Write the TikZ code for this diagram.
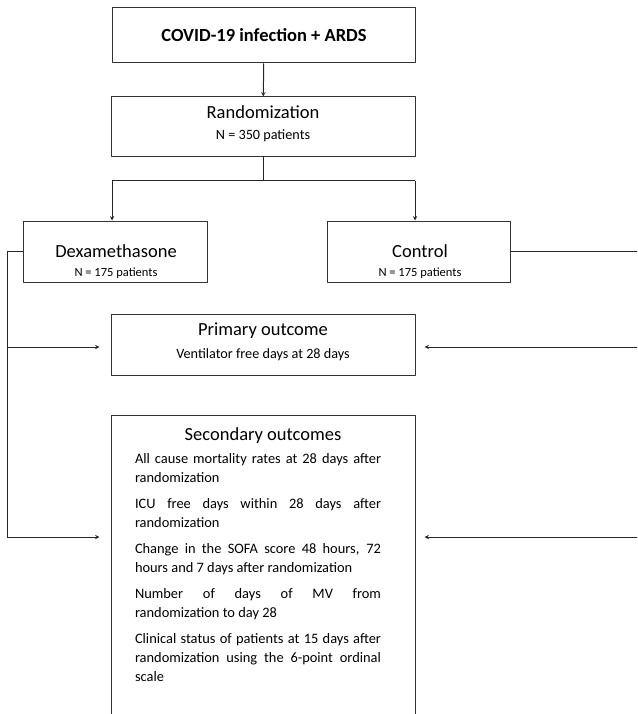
\documentclass[tikz,border=0pt]{standalone}
\usepackage{fontspec}
\setmainfont{Carlito}
\begin{document}
\begin{tikzpicture}[>=stealth,line join=round,x=1pt,y=-1pt,
		box/.style={draw=black!80,line width=1pt,inner sep=0pt,align=center},
		big/.style={font=\fontsize{18.5}{22}\selectfont},
		small/.style={font=\fontsize{14.2}{17}\selectfont},
		tiny/.style={font=\fontsize{12.5}{15}\selectfont},
		conn/.style={line width=1pt,black!85}]
				\useasboundingbox (0,0) rectangle (637,714);
				\clip (0,0) rectangle (637,714);
				% boxes
				\node[box,minimum width=303,minimum height=55,font=\bfseries\fontsize{18.5}{22}\selectfont] (covid) at (264,35.5) {COVID-19 infection + ARDS};
				\node[box,minimum width=304,minimum height=60] (rand) at (263,127) {};
				\node[big] (randtxt) at (263,112) {Randomization};
				\node[small] (randn) at (263,136) {N = 350 patients};
				\node[box,minimum width=184,minimum height=61] (dexa) at (115,251.5) {};
				\node[big] (dexatxt) at (116,251) {Dexamethasone};
				\node[tiny] (dexan) at (116,273) {N = 175 patients};
				\node[box,minimum width=183,minimum height=61] (ctrl) at (418.5,251.5) {};
				\node[big] (ctrltxt) at (420,251) {Control};
				\node[tiny] (ctrln) at (420,273) {N = 175 patients};
				\node[box,minimum width=304,minimum height=61] (prim) at (263,344.5) {};
				\node[big] (primtxt) at (263,331) {Primary outcome};
				\node[small] (primn) at (263,355) {Ventilator free days at 28 days};
				\node[box,anchor=north,minimum width=304,minimum height=330] (sec) at (263,415) {};
				\node[big] (sectxt) at (263,436) {Secondary outcomes};
				\node[anchor=north,text width=246pt,align=justify,inner sep=0pt,font=\fontsize{14.4}{19}\selectfont] (seclist) at (258,453) {\hyphenchar\font=-1 \hyphenpenalty=10000
					All cause mortality rates at 28 days after randomization\par\vspace{7pt}
					ICU free days within 28 days after randomization\par\vspace{7pt}
					Change in the SOFA score 48 hours, 72 hours and 7 days after randomization\par\vspace{7pt}
					Number of days of MV from\linebreak randomization to day 28\par\vspace{7pt}
					Clinical status of patients at 15 days after randomization using the 6-point ordinal scale};
				% junctions
				\path
				(263,181) coordinate (S)
				(112,181) coordinate (SL)
				(415,181) coordinate (SR)
				(7,251.5) coordinate (LT)
				(7,347) coordinate (LM)
				(7,537) coordinate (LB)
				(650,251.5) coordinate (RT)
				(650,347) coordinate (RM)
				(650,537) coordinate (RB)
				;
				\draw[conn,->] (covid) -- (rand);
				\draw[conn] (rand) -- (S) (SL) -- (SR);
				\draw[conn,->] (SL) -- (SL |- dexa.north);
				\draw[conn,->] (SR) -- (SR |- ctrl.north);
				\draw[conn] (dexa.west) -- (LT) -- (LB);
				\draw[conn] (ctrl.east) -- (RT) -- (RB);
				\draw[conn,->,shorten >=11pt] (LM) -- (LM -| prim.west);
				\draw[conn,->,shorten >=11pt] (LB) -- (LB -| sec.west);
				\draw[conn,->,shorten >=9pt] (RM) -- (RM -| prim.east);
				\draw[conn,->,shorten >=9pt] (RB) -- (RB -| sec.east);
			\end{tikzpicture}
\end{document}
